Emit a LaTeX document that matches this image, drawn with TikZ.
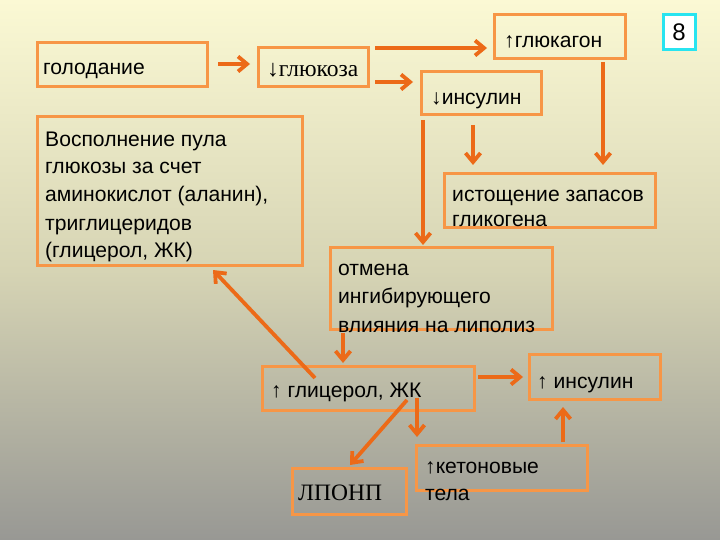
\documentclass[tikz,border=0pt]{standalone}
\usepackage{fontspec}
\setmainfont{Liberation Sans}
\newfontfamily\serifrm{Liberation Serif}
\usetikzlibrary{arrows.meta,fit,calc}
\definecolor{boxor}{RGB}{247,150,70}
\definecolor{arror}{RGB}{236,106,24}
\definecolor{bgtop}{RGB}{251,249,212}
\definecolor{bgbot}{RGB}{152,152,148}
\definecolor{cyanb}{RGB}{40,228,240}
\tikzset{
  box/.style={draw=boxor, line width=3pt, inner sep=0pt, outer sep=0pt},
  arr/.style={draw=arror, line width=3.8pt, -{Straight Barb[length=9pt,width=15pt]}},
  txt/.style={anchor=base west, inner sep=0pt, font=\fontsize{21.1}{25}\selectfont},
  stxt/.style={anchor=base west, inner sep=0pt, font=\serifrm\fontsize{23.5}{26}\selectfont},
}
\begin{document}
\begin{tikzpicture}[x=1pt,y=-1pt]
\useasboundingbox (0,0) rectangle (720,540);
\shade[top color=bgtop, bottom color=bgbot, middle color={rgb,255:red,214;green,212;blue,180}] (0,0) rectangle (720,540);
% boxes
\node[box, fit={(37,43) (207,87)}] (gol) {};
\node[box, fit={(258,48) (368,87)}] (glu) {};
\node[box, fit={(494,15) (625,59)}] (glg) {};
\node[draw=cyanb, fill=white, line width=3pt, inner sep=0pt, outer sep=0pt, fit={(663,15) (695,50)}] (num) {};
\node[box, fit={(421,72) (541,115)}] (ins) {};
\node[box, fit={(37,117) (302,265)}] (vos) {};
\node[box, fit={(444,174) (655,228)}] (ist) {};
\node[box, fit={(330,247) (552,329)}] (otm) {};
\node[box, fit={(262,366) (474,410)}] (gli) {};
\node[box, fit={(529,354) (660,399)}] (ins2) {};
\node[box, fit={(292,468) (406,514)}] (lpo) {};
\node[box, fit={(416,445) (587,490)}] (ket) {};
% texts
\node[txt] (tgol) at (43,75) {голодание};
\node[stxt] (tglu) at (267,77) {↓глюкоза};
\node[txt] (tglg) at (504,48) {↑глюкагон};
\node[anchor=center, inner sep=0pt, font=\fontsize{24}{28}\selectfont] (tnum) at (num.center) {8};
\node[txt] (tins) at (431,105) {↓инсулин};
\node[txt] (tvos1) at (45,147) {Восполнение пула};
\node[txt] (tvos2) at (45,174) {глюкозы за счет};
\node[txt] (tvos3) at (45,202) {аминокислот (аланин),};
\node[txt] (tvos4) at (45,230) {триглицеридов};
\node[txt] (tvos5) at (45,257) {(глицерол, ЖК)};
\node[txt] (tist1) at (452,202) {истощение запасов};
\node[txt] (tist2) at (452,226) {гликогена};
\node[txt] (totm1) at (338,275) {отмена};
\node[txt] (totm2) at (338,303) {ингибирующего};
\node[txt] (totm3) at (338,332) {влияния на липолиз};
\node[txt] (tgli) at (271,397) {↑ глицерол, ЖК};
\node[txt] (tins2) at (537,388) {↑ инсулин};
\node[stxt] (tlpo) at (298,500) {ЛПОНП};
\node[txt] (tket1) at (425,473) {↑кетоновые};
\node[txt] (tket2) at (425,500) {тела};
% connectors
\draw[arr] ($(gol.east)+(11,-1)$) -- ($(glu.west)+(-8,-3.5)$);
\draw[arr] ($(glu.north east)+(7,0)$) -- ($(glg.west)+(-7,11)$);
\draw[arr] ($(glu.east)+(7,14.5)$) -- ($(ins.west)+(-8,-11.5)$);
\draw[arr] ($(glg.south)+(43.5,3)$) -- ($(ist.north)+(53.5,-9)$);
\draw[arr] ($(ins.south)+(-8,10)$) -- ($(ist.north)+(-76.5,-9)$);
\draw[arr] ($(ins.south west)+(2,5)$) -- ($(otm.north west)+(93,-2)$);
\draw[arr] ($(otm.south west)+(13,4)$) -- ($(gli.north west)+(81,-3)$);
\draw[arr] ($(gli.north west)+(53,12)$) -- ($(vos.south)+(43.5,5)$);
\draw[arr] ($(gli.east)+(4,-11)$) -- ($(ins2.west)+(-6,0.5)$);
\draw[arr] ($(gli.south)+(39,-10)$) -- ($(lpo.north)+(1,-3)$);
\draw[arr] ($(gli.south)+(49,-12)$) -- ($(ket.north west)+(1,-8)$);
\draw[arr] ($(ket.north)+(61.5,-3)$) -- ($(ins2.south)+(-31.5,8)$);
\end{tikzpicture}
\end{document}
